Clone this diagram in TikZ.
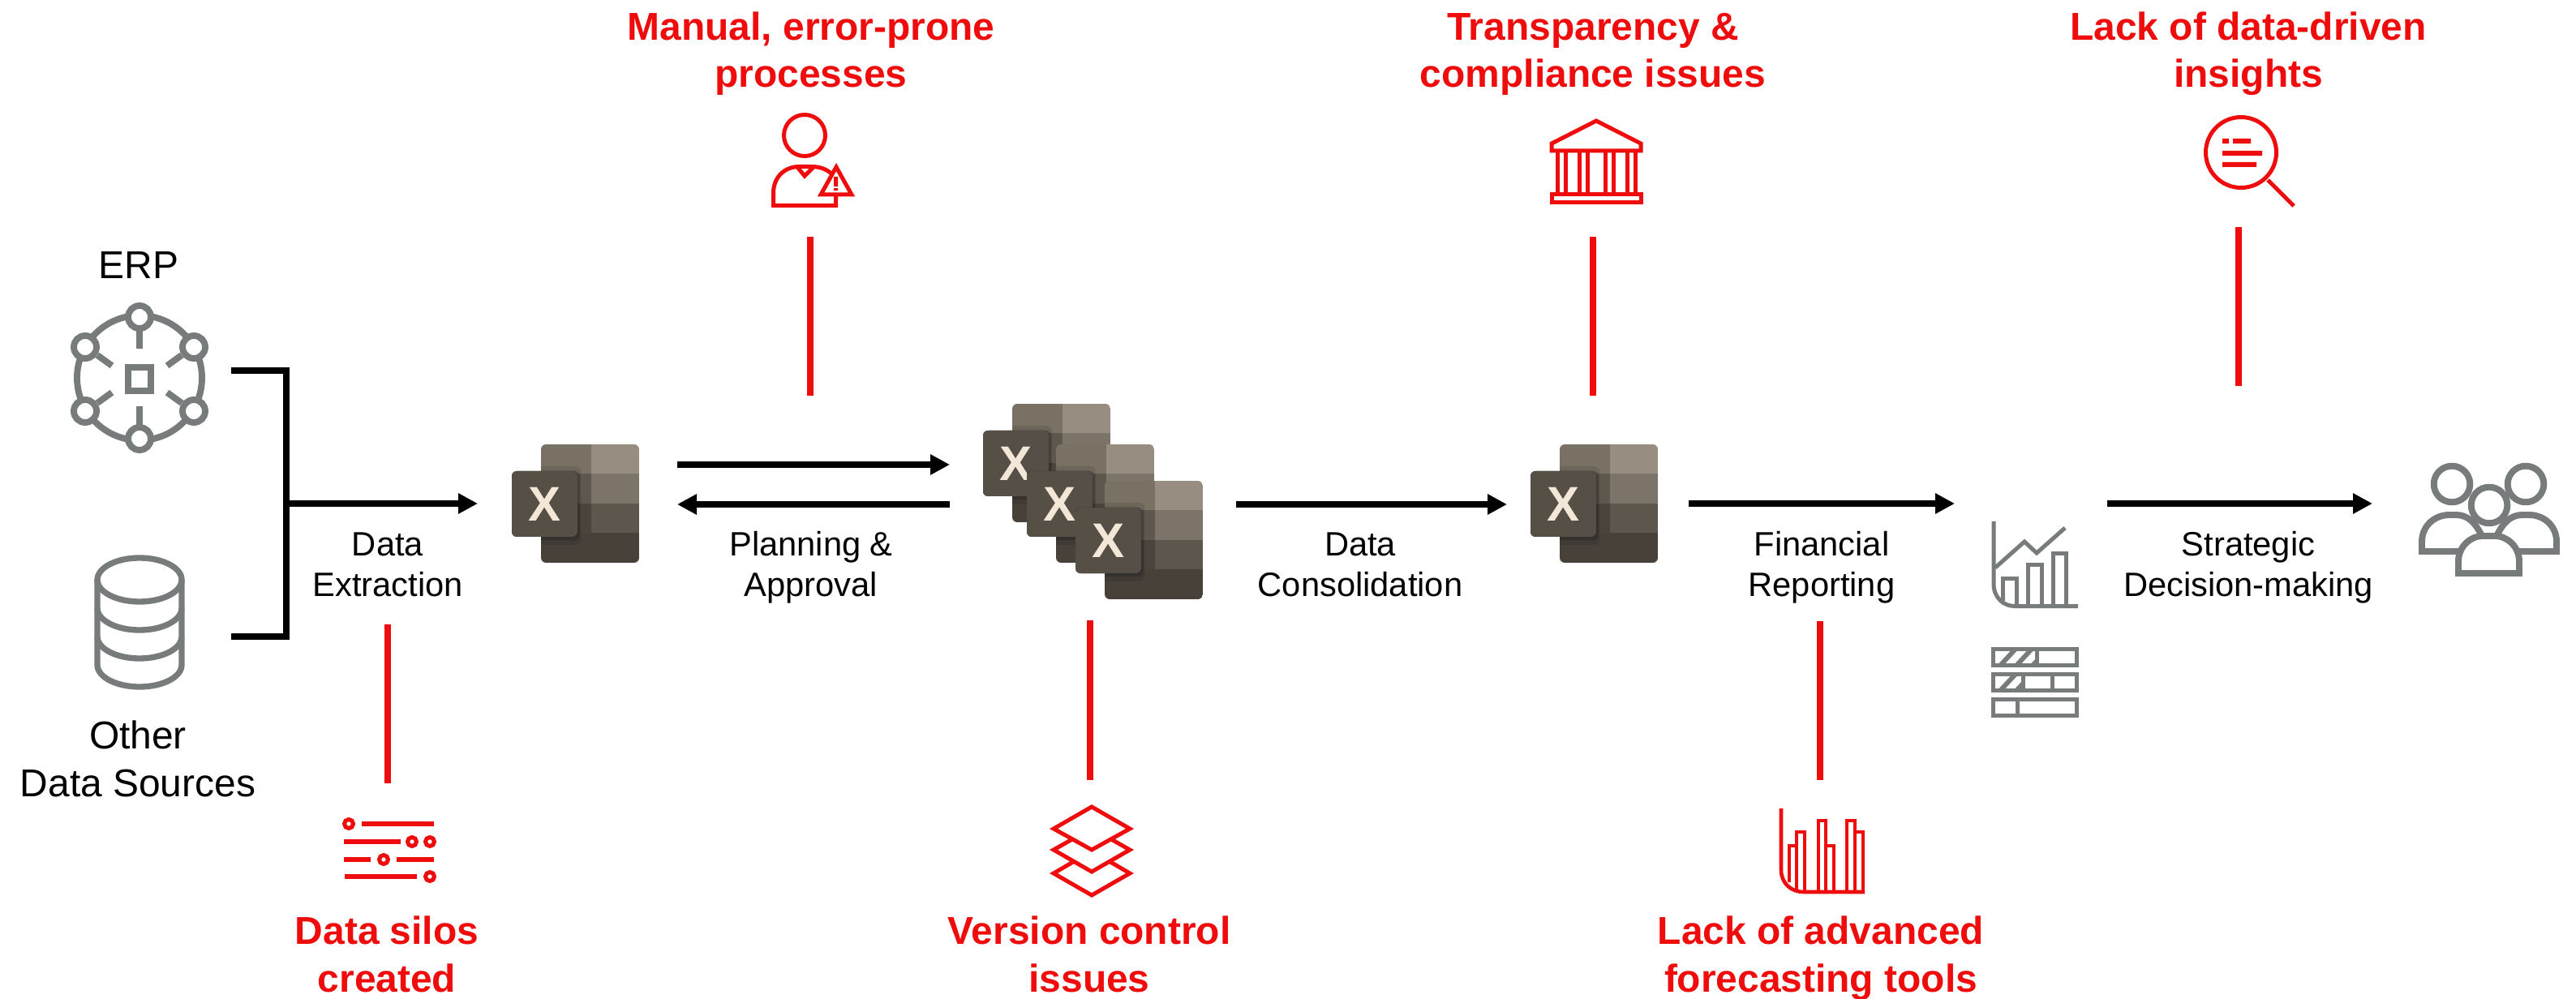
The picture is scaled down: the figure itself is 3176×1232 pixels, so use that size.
\documentclass[tikz,border=0pt]{standalone}
\usepackage{fontspec}
\setmainfont{Liberation Sans}
\usetikzlibrary{arrows.meta}
\definecolor{redc}{HTML}{EE0C0C}
\definecolor{greyc}{HTML}{777B7B}
\definecolor{xa}{HTML}{7A7165}
\definecolor{xb}{HTML}{978D80}
\definecolor{xc}{HTML}{5E574E}
\definecolor{xd}{HTML}{7C7468}
\definecolor{xe}{HTML}{4A443D}
\definecolor{xf}{HTML}{5D564D}
\definecolor{xg}{HTML}{47413A}
\definecolor{xh}{HTML}{F3E7D7}
\tikzset{
 flow/.style={black,line width=1.92pt,-{Triangle[length=5.76pt,width=5.76pt]}},
 bracket/.style={black,line width=1.92pt,miter limit=10},
 redbar/.style={redc,line width=1.92pt},
 redicon/.style={redc,line width=1.2pt},
 greyicon/.style={greyc,line width=1.2pt},
 issue/.style={font=\fontsize{11.5pt}{14pt}\selectfont\bfseries,text=redc,align=center,inner sep=0pt,anchor=base},
 step label/.style={font=\fontsize{10pt}{12.2pt}\selectfont,text=black,align=center,inner sep=0pt,anchor=base},
 source label/.style={font=\fontsize{11.5pt}{14.1pt}\selectfont,text=black,align=center,inner sep=0pt,anchor=base},
 xmark/.style={font=\fontsize{14.4pt}{14.4pt}\selectfont\bfseries,text=xh,inner sep=0pt},
}
% #1 node name, #2,#3 top-left corner of the sheet
\newcommand{\xlicon}[3]{%
 \begin{scope}[shift={(#2,#3)}]
  \begin{scope}
   \clip[rounded corners=1.5pt] (0,0) rectangle (121,146);
   \fill[xa] (0,0) rectangle (62,36);
   \fill[xb] (62,0) rectangle (121,36);
   \fill[xc] (0,36) rectangle (62,73);
   \fill[xd] (62,36) rectangle (121,73);
   \fill[xe] (0,73) rectangle (62,109);
   \fill[xf] (62,73) rectangle (121,109);
   \fill[xg] (0,109) rectangle (121,146);
   \fill[black,opacity=.1,rounded corners=1.5pt] (-10,27) rectangle (49,124);
   \fill[black,opacity=.15,rounded corners=1.5pt] (-10,33) rectangle (48,118);
  \end{scope}
  \fill[rounded corners=1.5pt,left color=xc!105!white,right color=xf!92!black] (-36,33) rectangle (45,114);
  \node[xmark] (#1) at (4.5,74) {X};
 \end{scope}}
\begin{document}
\begin{tikzpicture}[x=0.24pt,y=-0.24pt]
\useasboundingbox (0,0) rectangle (3176,1232);
\fill[white] (0,0) rectangle (3176,1232);

% ---------- ERP icon
\begin{scope}[greyicon,line width=1.9pt]
 \draw (172,466) circle (77);
 \foreach \a/\b in {105/428,239/428,105/507,239/507,172/391,172/541}
   \filldraw[fill=white] (\a,\b) circle (14);
 \draw (172,405) -- (172,430);
 \draw (172,501) -- (172,526);
 \draw (120,438) -- (138,451);
 \draw (224,438) -- (206,451);
 \draw (120,497) -- (138,484);
 \draw (224,497) -- (206,484);
 \draw (158,453) rectangle (186,482);
\end{scope}
\node[source label] (erp) at (171,344) {ERP};

% ---------- database icon
\begin{scope}[greyicon,line width=1.75pt]
 \draw (172,715) ellipse (52 and 27);
 \draw (120,715) -- (120,820) arc (180:0:52 and 27) -- (224,715);
 \draw (120,750) arc (180:0:52 and 27);
 \draw (120,785) arc (180:0:52 and 27);
\end{scope}
\node[source label] (src) at (170,982) {Other\\Data Sources};

% ---------- bracket and arrows
\coordinate (bt) at (285,457);
\coordinate (bb) at (285,785);
\coordinate (bm) at (353,621);
\coordinate (x1in) at (589,621);
\draw[bracket] (bt) -- (353,457) -- (353,785) -- (bb);
\draw[flow] (bm) -- (x1in);

\xlicon{xone}{667}{548}
\xlicon{xtwoa}{1248}{498}
\xlicon{xtwob}{1302}{548}
\xlicon{xtwoc}{1362}{593}
\xlicon{xthree}{1923}{548}

\coordinate (pa) at (835,573);
\coordinate (pb) at (1171,573);
\coordinate (qa) at (1171,622);
\coordinate (qb) at (835,622);
\coordinate (ca) at (1524,622);
\coordinate (cb) at (1858,622);
\coordinate (ra) at (2082,621);
\coordinate (rb) at (2410,621);
\coordinate (sa) at (2598,621);
\coordinate (sb) at (2925,621);
\draw[flow] (pa) -- (pb);
\draw[flow] (qa) -- (qb);
\draw[flow] (ca) -- (cb);
\draw[flow] (ra) -- (rb);
\draw[flow] (sa) -- (sb);

% ---------- step labels
\node[step label] (l1) at (478,736) {Data\\Extraction};
\node[step label] (l2) at (1000,736) {Planning \&\\Approval};
\node[step label] (l3) at (1677,736) {Data\\Consolidation};
\node[step label] (l4) at (2246,736) {Financial\\Reporting};
\node[step label] (l5) at (2772,736) {Strategic\\Decision-making};

% ---------- red bars
\coordinate (r1a) at (999,292);  \coordinate (r1b) at (999,488);
\coordinate (r2a) at (1964,292); \coordinate (r2b) at (1964,488);
\coordinate (r3a) at (2760,280); \coordinate (r3b) at (2760,476);
\coordinate (r4a) at (478,770);  \coordinate (r4b) at (478,966);
\coordinate (r5a) at (1344,765); \coordinate (r5b) at (1344,962);
\coordinate (r6a) at (2244,766); \coordinate (r6b) at (2244,962);
\foreach \n in {1,...,6} \draw[redbar] (r\n a) -- (r\n b);

% ---------- issue labels
\node[issue] (i1) at (1000,108) {Manual, error-prone\\processes};
\node[issue] (i2) at (1964,108) {Transparency \&\\compliance issues};
\node[issue] (i3) at (2772,108) {Lack of data-driven\\insights};
\node[issue] (i4) at (477,1223) {Data silos\\created};
\node[issue] (i5) at (1343,1223) {Version control\\issues};
\node[issue] (i6) at (2245,1223) {Lack of advanced\\forecasting tools};

% ---------- person with warning
\begin{scope}[redicon]
 \draw (992,167) circle (25.5);
 \draw (1030.5,240) -- (1030.5,253.5) -- (953.5,253.5) -- (953.5,238)
   .. controls (953.5,218) and (968,205.5) .. (985,205.5) -- (1000,205.5)
   .. controls (1010,205.5) and (1018,208) .. (1025,214);
 \draw (983,206) -- (992,217) -- (1003,206);
 \filldraw[fill=white,line join=miter] (1031,206) -- (1012,240) -- (1050,240) -- cycle;
 \fill[redc] (1028,218) rectangle (1033,230) (1028,232) rectangle (1033,235);
\end{scope}

% ---------- bank
\begin{scope}[redicon]
 \draw (1913,177) -- (1968,149) -- (2023,177) -- (2023,186) -- (1913,186) -- cycle;
 \foreach \a in {1920,1930,1947,1957,1979,1989,2006,2016} \draw (\a,186) -- (\a,240);
 \draw (1913,240) rectangle (2023,250);
\end{scope}

% ---------- magnifier
\begin{scope}[redicon]
 \draw (2763,188) circle (43.5);
 \draw (2796,222) -- (2828,254);
 \fill[redc] (2740,171) rectangle (2748,177) (2753,171) rectangle (2775,177)
   (2740,186) rectangle (2789,192) (2740,200) rectangle (2782,206);
\end{scope}

% ---------- sliders
\begin{scope}[redc,line width=1.44pt]
 \draw (446,1016) -- (535,1016);
 \draw (424,1038) -- (494,1038);
 \draw (424,1060) -- (457,1060);
 \draw (489,1060) -- (535,1060);
 \draw (425,1081) -- (514,1081);
 \foreach \a/\b in {430/1016,508/1038,530/1038,473/1060,530/1081}
   \draw[line width=1.2pt] (\a,\b) circle (5.5);
\end{scope}

% ---------- layers
\begin{scope}[redicon]
 \draw (1299,1022) -- (1346,995) -- (1393,1022) -- (1346,1048) -- cycle;
 \draw (1322,1035) -- (1299,1048) -- (1346,1075) -- (1393,1048) -- (1370,1035);
 \draw (1323,1063) -- (1299,1077) -- (1346,1104) -- (1393,1077) -- (1369,1063);
\end{scope}

% ---------- red chart
\begin{scope}[redicon,line width=1.1pt]
 \draw (2196,997) -- (2196,1073) .. controls (2196,1089) and (2208,1100) .. (2224,1100) -- (2299,1100);
 \draw (2206,1088) -- (2206,1043) -- (2215,1043);
 \draw (2215,1097) -- (2215,1026) -- (2225,1026) -- (2225,1100);
 \draw (2242,1100) -- (2242,1012) -- (2251,1012) -- (2251,1100);
 \draw (2251,1043) -- (2261,1043) -- (2261,1100);
 \draw (2277,1100) -- (2277,1012) -- (2287,1012) -- (2287,1100);
 \draw (2287,1026) -- (2297,1026) -- (2297,1100);
\end{scope}

% ---------- grey chart
\begin{scope}[greyicon]
 \draw (2458,643) -- (2458,720) .. controls (2458,737) and (2470,747.5) .. (2484,747.5) -- (2562,747.5);
 \draw (2469,741) -- (2469,713) -- (2486,713) -- (2486,747.5);
 \draw (2500,747.5) -- (2500,696) -- (2517,696) -- (2517,747.5);
 \draw (2531,747.5) -- (2531,682) -- (2547,682) -- (2547,747.5);
 \draw (2460,700) -- (2496,668) -- (2511,682) -- (2546,651);
\end{scope}

% ---------- grey table
\begin{scope}[greyicon]
 \draw (2457.5,800) rectangle (2560,820);
 \draw (2457.5,831) rectangle (2560,851);
 \draw (2457.5,862) rectangle (2560,882);
 \draw (2511,800) -- (2511,820);
 \draw (2494,831) -- (2494,851);
 \draw (2530,831) -- (2530,851);
 \draw (2487,862) -- (2487,882);
 \begin{scope}
  \clip (2457.5,800) rectangle (2511,820);
  \foreach \a in {2462,2482,2502} \draw[line width=1.4pt] (\a,825) -- (\a+28,795);
 \end{scope}
 \begin{scope}
  \clip (2457.5,831) rectangle (2494,851);
  \foreach \a in {2462,2482} \draw[line width=1.4pt] (\a,856) -- (\a+28,826);
 \end{scope}
\end{scope}

% ---------- people
\begin{scope}[greyicon,line width=1.9pt,line join=miter]
 \draw (3023,597) circle (22.3);
 \draw (3114,597) circle (22.3);
 \draw (3031,680) -- (2986,680) -- (2986,668)
   .. controls (2986,649) and (3001,635) .. (3020,635) -- (3028,635)
   .. controls (3043,635) and (3052,645) .. (3060,661);
 \draw (3106,680) -- (3152,680) -- (3152,668)
   .. controls (3152,649) and (3137,635) .. (3118,635) -- (3110,635)
   .. controls (3095,635) and (3086,645) .. (3078,661);
 \draw (3069,623) circle (22.3);
 \draw (3031,707) -- (3106,707) -- (3106,692)
   .. controls (3106,675) and (3092,661) .. (3076,661) -- (3061,661)
   .. controls (3045,661) and (3031,675) .. (3031,692) -- cycle;
\end{scope}
\end{tikzpicture}
\end{document}
